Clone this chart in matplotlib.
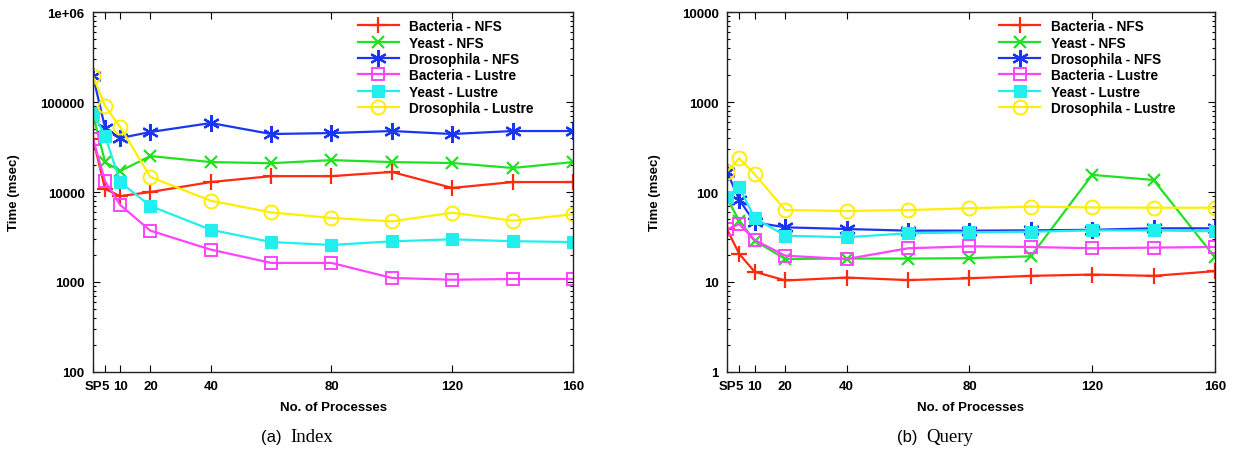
import matplotlib
matplotlib.use('Agg')
import matplotlib.pyplot as plt
from matplotlib.ticker import FixedLocator, LogLocator, NullFormatter

plt.rcParams['font.family'] = ['Liberation Sans', 'DejaVu Sans']
plt.rcParams['font.weight'] = 'bold'

# x positions: SP plotted at 1
procs = [1, 5, 10, 20, 40, 60, 80, 100, 120, 140, 160]
xtick_pos = [1, 5, 10, 20, 40, 80, 120, 160]
xtick_lbl = ['SP', '5', '10', '20', '40', '80', '120', '160']

labels = ['Bacteria - NFS', 'Yeast - NFS', 'Drosophila - NFS',
          'Bacteria - Lustre', 'Yeast - Lustre', 'Drosophila - Lustre']

# (a) Index, msec
index_bacteria_nfs = [39000, 10800, 9000, 10000, 12900, 15000, 15000, 16700, 11100, 12900, 12900]
index_yeast_nfs = [72000, 21500, 17100, 25100, 21500, 20900, 22600, 21500, 21000, 18500, 21500]
index_dros_nfs = [194000, 51400, 39800, 46400, 58400, 44100, 45200, 47600, 44100, 47600, 47600]
index_bacteria_lustre = [38800, 13200, 7170, 3720, 2290, 1630, 1630, 1110, 1060, 1080, 1080]
index_yeast_lustre = [75500, 41900, 12900, 6990, 3810, 2780, 2580, 2830, 2980, 2840, 2780]
index_dros_lustre = [194000, 90300, 52700, 14700, 8000, 5940, 5140, 4720, 5890, 4800, 5650]

# (b) Query, msec
query_bacteria_nfs = [38.5, 20.5, 13.0, 10.4, 11.2, 10.5, 11.0, 11.7, 12.1, 11.7, 13.2]
query_yeast_nfs = [85, 48, 28.8, 18.0, 18.2, 18.2, 18.4, 19.3, 155, 136, 18.8]
query_dros_nfs = [168, 82, 46, 40.5, 38.8, 37.2, 37.2, 37.5, 38.0, 39.5, 39.5]
query_bacteria_lustre = [38.5, 44, 29.3, 19.6, 18.0, 23.7, 24.9, 24.5, 23.7, 24.1, 24.5]
query_yeast_lustre = [87, 113, 51.4, 32.7, 31.4, 34.8, 35.6, 36.2, 37.4, 37.4, 36.6]
query_dros_lustre = [168, 237, 158, 63, 61.5, 63, 66, 68.8, 67.3, 67, 67]

colors = ['#ff2a10', '#22e022', '#1a36f0', '#ff44ff', '#22eeee', '#ffee00']
styles = [dict(marker='+', ms=11, mew=1.6),
          dict(marker='x', ms=9, mew=1.6),
          dict(marker=(6, 2, 0), ms=12, mew=1.6),
          dict(marker='s', ms=9, mew=1.4, mfc='none'),
          dict(marker='s', ms=9, mew=0.8),
          dict(marker='o', ms=10, mew=1.4, mfc='none')]


def draw(ax, series, ylim, yticks, ylbls):
    for vals, lab, c, st in zip(series, labels, colors, styles):
        ax.plot(procs, vals, color=c, lw=1.6, label=lab, **st)
    ax.set_yscale('log')
    ax.set_xlim(1, 160)
    ax.set_ylim(*ylim)
    ax.xaxis.set_major_locator(FixedLocator(xtick_pos))
    ax.set_xticklabels(xtick_lbl)
    ax.yaxis.set_major_locator(FixedLocator(yticks))
    ax.set_yticklabels(ylbls)
    ax.yaxis.set_minor_locator(LogLocator(base=10, subs=range(2, 10)))
    ax.yaxis.set_minor_formatter(NullFormatter())
    ax.tick_params(which='both', direction='in', top=True, right=True,
                   labelsize=9.5, width=0.8)
    ax.tick_params(which='major', length=5, pad=6)
    ax.tick_params(which='minor', length=2.5)
    for s in ax.spines.values():
        s.set_linewidth(1.0)
        s.set_color('#222222')
    ax.set_xlabel('No. of Processes', fontsize=9.5, fontweight='bold', labelpad=6)
    ax.set_ylabel('Time (msec)', fontsize=9.5, fontweight='bold', labelpad=15)
    ax.legend(loc='upper right', frameon=False, fontsize=9.8, labelspacing=0.17,
              handlelength=3.0, handletextpad=0.8, borderaxespad=0.0,
              bbox_to_anchor=(0.93, 0.995))


fig = plt.figure(figsize=(12.37, 4.52), dpi=100)
ax1 = fig.add_axes([0.0752, 0.1748, 0.388, 0.7964])
ax2 = fig.add_axes([0.5877, 0.1748, 0.3945, 0.7964])

draw(ax1, [index_bacteria_nfs, index_yeast_nfs, index_dros_nfs,
           index_bacteria_lustre, index_yeast_lustre, index_dros_lustre],
     (100, 1e6), [100, 1000, 10000, 100000, 1e6],
     ['100', '1000', '10000', '100000', '1e+06'])
draw(ax2, [query_bacteria_nfs, query_yeast_nfs, query_dros_nfs,
           query_bacteria_lustre, query_yeast_lustre, query_dros_lustre],
     (1, 10000), [1, 10, 100, 1000, 10000],
     ['1', '10', '100', '1000', '10000'])

fig.text(0.228, 0.033, '(a)', ha='right', va='center', fontsize=12,
         fontweight='normal', family=['Liberation Sans'])
fig.text(0.2344, 0.033, 'Index', ha='left', va='center', fontsize=13.5,
         fontweight='normal', family=['Liberation Serif'])
fig.text(0.742, 0.033, '(b)', ha='right', va='center', fontsize=12,
         fontweight='normal', family=['Liberation Sans'])
fig.text(0.749, 0.033, 'Query', ha='left', va='center', fontsize=13.5,
         fontweight='normal', family=['Liberation Serif'])

fig.savefig('out.png', dpi=100)
